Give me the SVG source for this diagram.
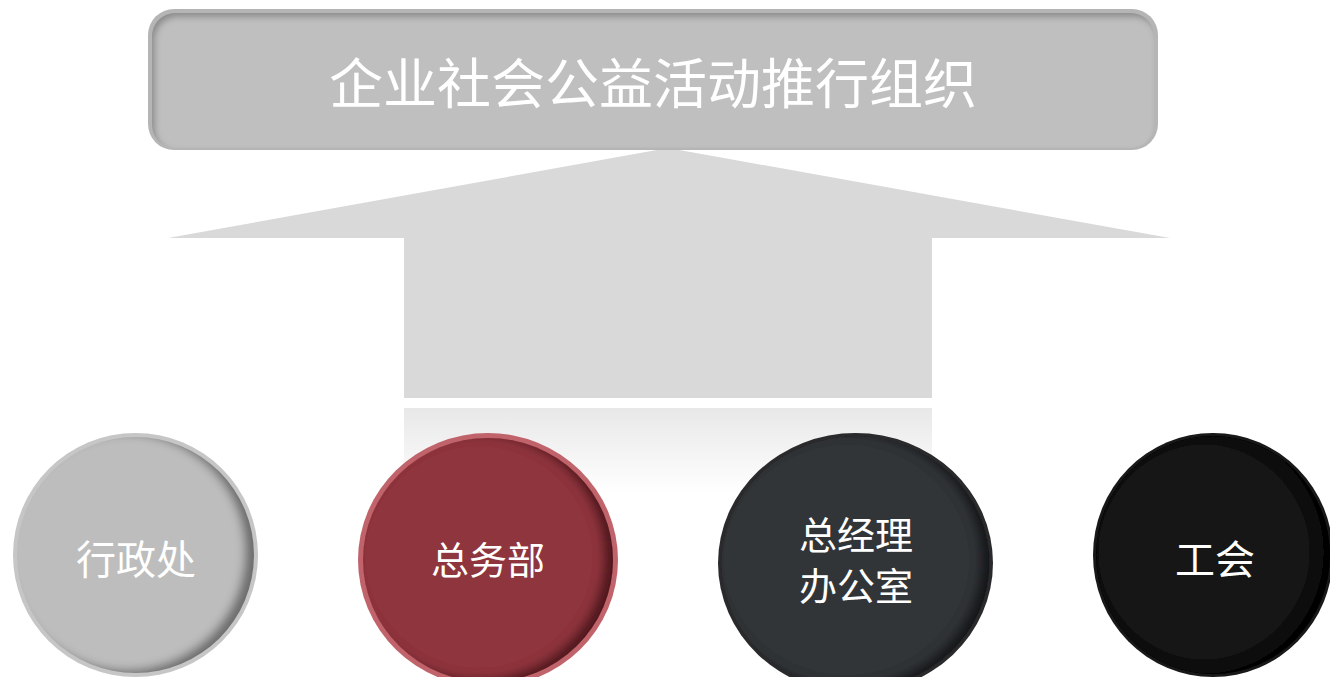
<svg xmlns="http://www.w3.org/2000/svg" width="1330" height="677" viewBox="0 0 1330 677">
<style>
.lbl{font-family:"Noto Sans CJK SC","Noto Sans",sans-serif;fill:#ffffff;text-anchor:middle}
</style>
<defs>
<filter id="innerR" x="-10%" y="-10%" width="120%" height="120%">
<feComponentTransfer in="SourceAlpha" result="inv"><feFuncA type="table" tableValues="1 0"/></feComponentTransfer>
<feOffset in="inv" dx="-9" dy="-3" result="off"/>
<feGaussianBlur in="off" stdDeviation="5" result="blur"/>
<feFlood flood-color="#000" flood-opacity="0.7"/>
<feComposite in2="blur" operator="in" result="sh"/>
<feComposite in="sh" in2="SourceAlpha" operator="in" result="shin"/>
<feMerge><feMergeNode in="SourceGraphic"/><feMergeNode in="shin"/></feMerge>
</filter>
<filter id="innerTL" x="-5%" y="-10%" width="110%" height="120%">
<feComponentTransfer in="SourceAlpha" result="inv"><feFuncA type="table" tableValues="1 0"/></feComponentTransfer>
<feOffset in="inv" dx="3" dy="4" result="off"/>
<feGaussianBlur in="off" stdDeviation="3" result="blur"/>
<feFlood flood-color="#000" flood-opacity="0.5"/>
<feComposite in2="blur" operator="in" result="sh"/>
<feComposite in="sh" in2="SourceAlpha" operator="in" result="shin"/>
<feMerge><feMergeNode in="SourceGraphic"/><feMergeNode in="shin"/></feMerge>
</filter>
<linearGradient id="refl" x1="0" y1="0" x2="0" y2="1">
<stop offset="0" stop-color="#e8e8e8"/>
<stop offset="1" stop-color="#ffffff"/>
</linearGradient>
</defs>

<g id="connectors">
<polygon points="668,148 1170,238 932,238 932,398 404,398 404,238 168,238" fill="#d9d9d9"/>
<rect x="404" y="408" width="528" height="86" fill="url(#refl)"/>
</g>

<g id="top-node">
<rect x="148" y="9" width="1010" height="141" rx="26" fill="#b5b5b5"/>
<rect x="152" y="13" width="1002" height="135" rx="23" fill="#bfbfbf" filter="url(#innerTL)"/>
<text class="lbl" x="653" y="104" font-size="54">企业社会公益活动推行组织</text>
</g>

<g id="node-xingzheng">
<ellipse cx="135.5" cy="555" rx="122.5" ry="122" fill="#c6c6c6"/>
<ellipse cx="135.5" cy="555" rx="118.5" ry="118" fill="#bdbdbd" filter="url(#innerR)"/>
<text class="lbl" x="136" y="574" font-size="40">行政处</text>
</g>

<g id="node-zongwu">
<ellipse cx="488" cy="560" rx="130" ry="127" fill="#c0636a"/>
<ellipse cx="488" cy="560" rx="125" ry="122" fill="#8e353e" filter="url(#innerR)"/>
<text class="lbl" x="488" y="574" font-size="38">总务部</text>
</g>

<g id="node-zongjingli">
<ellipse cx="855.5" cy="563" rx="137.5" ry="130" fill="#2a2a2c"/>
<ellipse cx="855.5" cy="563" rx="134" ry="126.5" fill="#333437" filter="url(#innerR)"/>
<text class="lbl" x="856" y="549" font-size="38">总经理</text>
<text class="lbl" x="856" y="600" font-size="38">办公室</text>
</g>

<g id="node-gonghui">
<ellipse cx="1213" cy="555" rx="120" ry="122" fill="#181818"/>
<ellipse cx="1213" cy="555" rx="117" ry="119" fill="#131313" filter="url(#innerR)"/>
<text class="lbl" x="1215" y="574" font-size="40">工会</text>
</g>
</svg>
